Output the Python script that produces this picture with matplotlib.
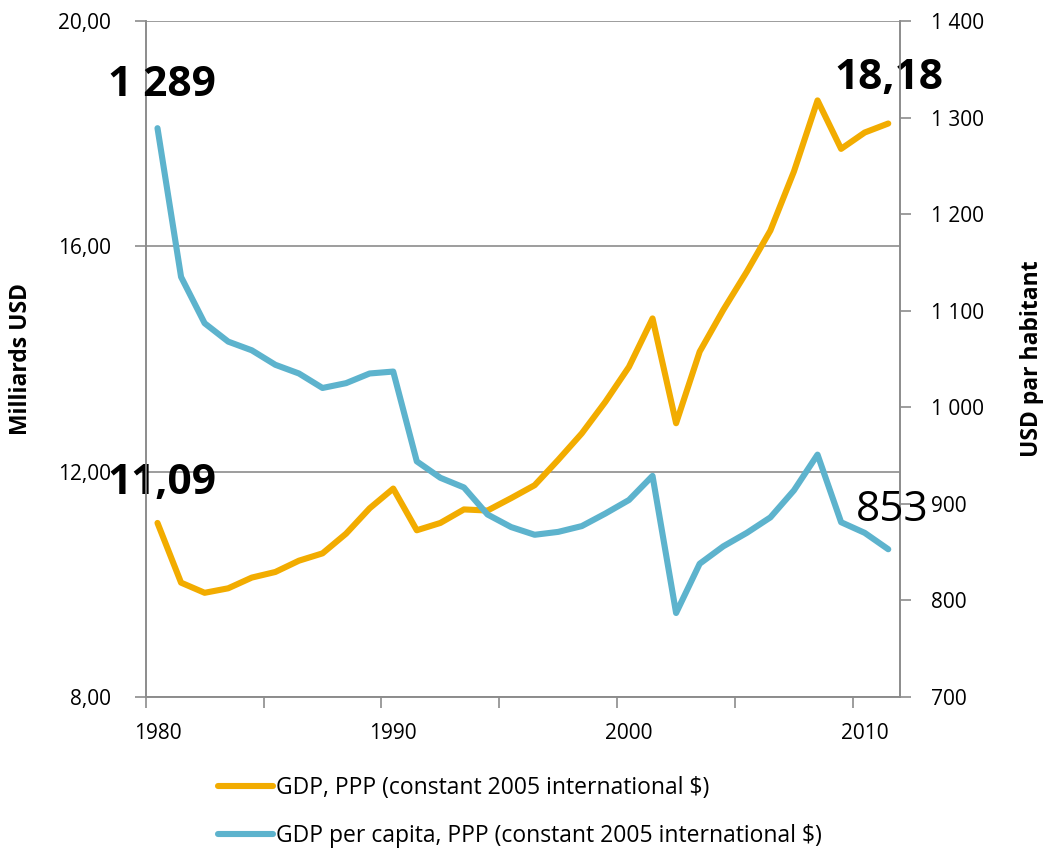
import matplotlib
matplotlib.use("Agg")
import matplotlib.pyplot as plt
from matplotlib.ticker import FuncFormatter, FixedLocator

years = list(range(1980, 2012))
gdp = [11.09, 10.03, 9.85, 9.93, 10.12, 10.22, 10.42, 10.55, 10.90, 11.35,
       11.70, 10.96, 11.09, 11.33, 11.31, 11.53, 11.76, 12.21, 12.68, 13.24,
       13.86, 14.72, 12.86, 14.13, 14.87, 15.55, 16.28, 17.33, 18.59, 17.73,
       18.02, 18.18]
gdp_pc = [1289, 1135, 1087, 1068, 1059, 1044, 1035, 1020, 1025, 1035,
          1037, 944, 927, 917, 889, 876, 868, 871, 877, 890,
          904, 929, 787, 838, 856, 870, 886, 914, 951, 881,
          870, 853]
year_labels = [1980, 1990, 2000, 2010]
left_ticks = [8, 12, 16, 20]
right_ticks = [700, 800, 900, 1000, 1100, 1200, 1300, 1400]
gdp_name = "GDP, PPP (constant 2005 international $)"
pc_name = "GDP per capita, PPP (constant 2005 international $)"

FONT = ["Open Sans", "DejaVu Sans"]
plt.rcParams["font.family"] = FONT

ORANGE = "#F2AC00"
BLUE = "#5DB3CD"
GRAY = "#8C8C8C"

fig = plt.figure(figsize=(10.49, 8.49), dpi=100)
ax = fig.add_axes([0.1389, 0.179, 0.858 - 0.1389, 0.9753 - 0.179])
ax2 = ax.twinx()

ax.set_xlim(1979.5, 2011.5)
ax.set_ylim(8, 20)
ax2.set_ylim(700, 1400)

l1, = ax.plot(years, gdp, color=ORANGE, lw=4.4, solid_joinstyle="round",
              solid_capstyle="round", label=gdp_name, zorder=3)
l2, = ax2.plot(years, gdp_pc, color=BLUE, lw=4.4, solid_joinstyle="round",
               solid_capstyle="round", label=pc_name, zorder=3)

ax.set_yticks(left_ticks)
ax.yaxis.set_major_formatter(FuncFormatter(lambda v, p: f"{v:.2f}".replace(".", ",")))
ax.grid(axis="y", color=GRAY, lw=1.2)
ax.set_axisbelow(True)

ax2.set_yticks(right_ticks)
ax2.yaxis.set_major_formatter(FuncFormatter(lambda v, p: f"{int(v):,}".replace(",", " ")))

ax.xaxis.set_major_locator(FixedLocator([1979.5 + 5 * k for k in range(7)]))
ax.xaxis.set_major_formatter(FuncFormatter(lambda v, p: ""))
ax.xaxis.set_minor_locator(FixedLocator(year_labels))
ax.xaxis.set_minor_formatter(FuncFormatter(lambda v, p: f"{int(v)}"))

for a in (ax, ax2):
    for s in a.spines.values():
        s.set_color(GRAY)
        s.set_linewidth(1.2)
    a.spines["top"].set_visible(False)

TS = 15
ax.tick_params(axis="x", which="major", length=8, width=1.2, color=GRAY, direction="out")
ax.tick_params(axis="x", which="minor", length=0, pad=19, labelsize=TS)
ax.tick_params(axis="y", length=8, width=1.2, color=GRAY, direction="out", pad=17, labelsize=TS)
ax2.tick_params(axis="y", length=8, width=1.2, color=GRAY, direction="out", pad=14, labelsize=TS)

ax.set_ylabel("Milliards USD", fontsize=16.5, fontweight="bold", labelpad=18)
ax2.set_ylabel("USD par habitant", fontsize=16.5, fontweight="bold", labelpad=26)

LS = 30.5
ax2.annotate(f"{gdp_pc[0]:,}".replace(",", " "), (years[0], gdp_pc[0]),
             xytext=(4, 43), textcoords="offset pixels", ha="center", va="center",
             fontsize=LS, fontweight="bold", zorder=5)
ax.annotate(f"{gdp[0]:.2f}".replace(".", ","), (years[0], gdp[0]),
            xytext=(4, 39), textcoords="offset pixels", ha="center", va="center",
            fontsize=LS, fontweight="bold", zorder=5)
ax.annotate(f"{gdp[-1]:.2f}".replace(".", ","), (years[-1], gdp[-1]),
            xytext=(1, 45), textcoords="offset pixels", ha="center", va="center",
            fontsize=LS, fontweight="bold", zorder=5, annotation_clip=False)
ax2.annotate(f"{gdp_pc[-1]}", (years[-1], gdp_pc[-1]),
             xytext=(4, 39), textcoords="offset pixels", ha="center", va="center",
             fontsize=LS, zorder=5, annotation_clip=False)

leg = fig.legend([l1, l2], [gdp_name, pc_name], loc="upper left",
                 bbox_to_anchor=(218 / 1049, 1 - 776 / 849), ncol=1, frameon=False,
                 fontsize=16.5, handlelength=2.4, handletextpad=0.12, labelspacing=1.05,
                 borderaxespad=0, borderpad=0)

fig.savefig("out.png", dpi=100)
